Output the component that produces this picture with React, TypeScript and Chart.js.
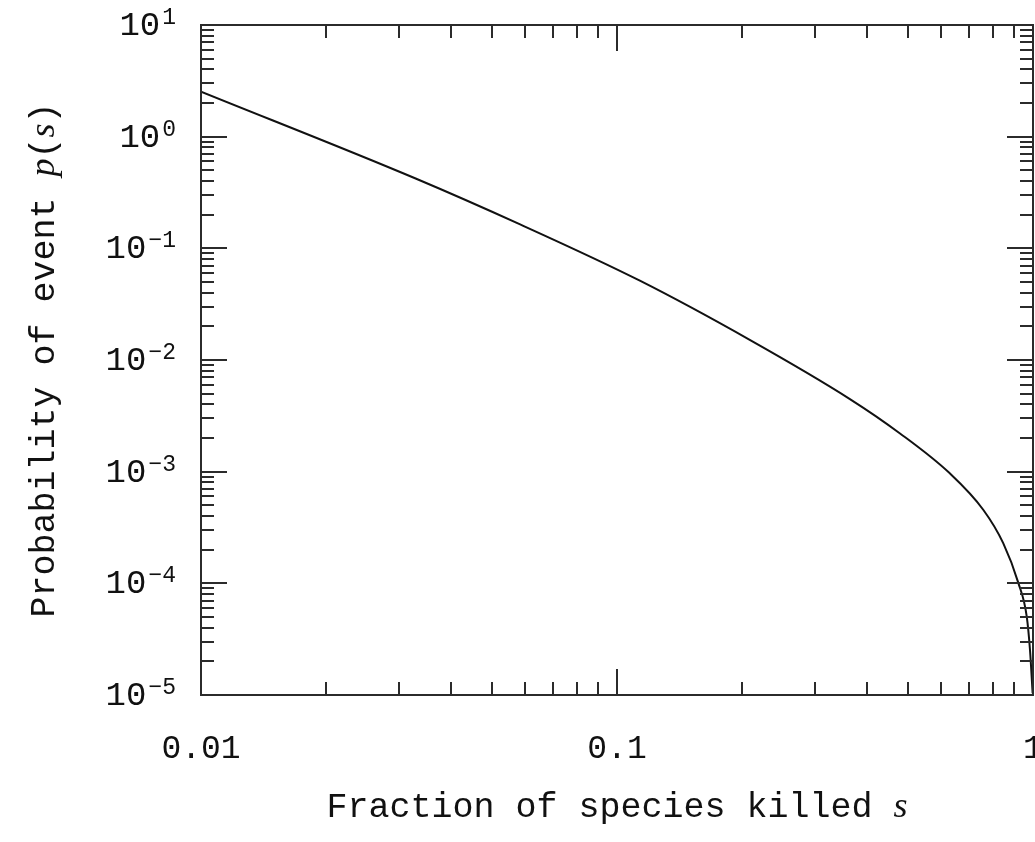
import React, { useEffect, useRef } from "react";
import { Chart, registerables } from "chart.js";

Chart.register(...registerables);

// Fraction of species killed s
const S_VALUES = [0.01, 0.0327, 0.0585, 0.1135, 0.209, 0.363, 0.479, 0.631, 0.76, 0.848, 0.922, 0.966, 0.9835, 0.998];
// Probability of event p(s)
const P_VALUES = [2.53, 0.424, 0.1637, 0.0513, 0.01507, 0.00447, 0.0022, 0.000966, 0.000454, 0.000229, 0.000101, 5.04e-5, 2.53e-5, 1.04e-5];

const X_TICK_VALUES = [0.01, 0.1, 1];
const X_TICK_LABELS = ["0.01", "0.1", "1"];
const Y_TICK_EXPONENTS = [-5, -4, -3, -2, -1, 0, 1];

const X_TITLE = "Fraction of species killed ";
const X_TITLE_VAR = "s";
const Y_TITLE = "Probability of event ";

const W = 1035;
const H = 842;
const MONO = "'Liberation Mono', 'DejaVu Sans Mono', monospace";
const ITAL = "italic 36px 'Liberation Serif', 'DejaVu Serif', serif";
const AXIS_COLOR = "#2b2b2b";

function fmtExp(e: number): string {
  return e < 0 ? "\u2212" + String(-e) : String(e);
}

const framePlugin = {
  id: "framePlugin",
  afterDraw(chart: any) {
    const ctx: CanvasRenderingContext2D = chart.ctx;
    const { left, right, top, bottom } = chart.chartArea;
    const xs = chart.scales.x;
    const ys = chart.scales.y;
    ctx.save();
    ctx.strokeStyle = AXIS_COLOR;
    ctx.lineWidth = 2;
    ctx.strokeRect(left, top, right - left, bottom - top);

    const MAJ = 26;
    const MIN = 13;
    ctx.beginPath();
    for (let d = 0; d < X_TICK_VALUES.length; d++) {
      const base = X_TICK_VALUES[d];
      for (let k = 1; k <= 9; k++) {
        const v = base * k;
        if (v > xs.max * 1.0001) break;
        const px = Math.round(xs.getPixelForValue(v));
        const len = k === 1 ? MAJ : MIN;
        ctx.moveTo(px, bottom);
        ctx.lineTo(px, bottom - len);
        ctx.moveTo(px, top);
        ctx.lineTo(px, top + len);
      }
    }
    for (const e of Y_TICK_EXPONENTS) {
      const base = Math.pow(10, e);
      for (let k = 1; k <= 9; k++) {
        const v = base * k;
        if (v > ys.max * 1.0001) break;
        const py = Math.round(ys.getPixelForValue(v));
        const len = k === 1 ? MAJ : MIN;
        ctx.moveTo(left, py);
        ctx.lineTo(left + len, py);
        ctx.moveTo(right, py);
        ctx.lineTo(right - len, py);
      }
    }
    ctx.stroke();

    ctx.fillStyle = "#111";
    ctx.font = `33px ${MONO}`;
    ctx.textAlign = "center";
    ctx.textBaseline = "middle";
    X_TICK_VALUES.forEach((v, i) => {
      ctx.fillText(X_TICK_LABELS[i], xs.getPixelForValue(v), 749);
    });

    const labelRight = 176;
    for (const e of Y_TICK_EXPONENTS) {
      const py = ys.getPixelForValue(Math.pow(10, e));
      const expStr = fmtExp(e);
      ctx.font = `23px ${MONO}`;
      const ew = ctx.measureText(expStr).width;
      ctx.textAlign = "left";
      ctx.textBaseline = "alphabetic";
      ctx.fillText(expStr, labelRight - ew, py - 1);
      ctx.font = `34px ${MONO}`;
      ctx.textAlign = "right";
      ctx.textBaseline = "middle";
      ctx.fillText("10", labelRight - ew - 2, py + 1);
    }

    ctx.textBaseline = "alphabetic";
    ctx.font = `35px ${MONO}`;
    const w1 = ctx.measureText(X_TITLE).width;
    ctx.font = ITAL;
    const w2 = ctx.measureText(X_TITLE_VAR).width;
    const cx = (left + right) / 2;
    const startX = cx - (w1 + w2) / 2;
    ctx.textAlign = "left";
    ctx.font = `35px ${MONO}`;
    ctx.fillText(X_TITLE, startX, 817);
    ctx.font = ITAL;
    ctx.fillText(X_TITLE_VAR, startX + w1, 817);

    ctx.save();
    ctx.translate(54, (top + bottom) / 2);
    ctx.rotate(-Math.PI / 2);
    const parts: [string, string][] = [
      [Y_TITLE, `35px ${MONO}`],
      ["p", ITAL],
      ["(", `35px ${MONO}`],
      ["s", ITAL],
      [")", `35px ${MONO}`],
    ];
    let total = 0;
    for (const [t, f] of parts) {
      ctx.font = f;
      total += ctx.measureText(t).width;
    }
    let x0 = -total / 2;
    for (const [t, f] of parts) {
      ctx.font = f;
      ctx.fillText(t, x0, 0);
      x0 += ctx.measureText(t).width;
    }
    ctx.restore();
    ctx.restore();
  },
};

export default function App() {
  const ref = useRef<HTMLCanvasElement | null>(null);
  useEffect(() => {
    if (!ref.current) return;
    const chart = new Chart(ref.current, {
      type: "line",
      data: {
        datasets: [
          {
            data: S_VALUES.map((s, i) => ({ x: s, y: P_VALUES[i] })),
            borderColor: "#111",
            borderWidth: 2,
            pointRadius: 0,
            fill: false,
            cubicInterpolationMode: "monotone",
          },
        ],
      },
      options: {
        animation: false,
        responsive: false,
        devicePixelRatio: 1,
        layout: { padding: { left: 201, right: 2, top: 25, bottom: 147 } },
        scales: {
          x: { type: "logarithmic", min: 0.01, max: 1, display: false },
          y: { type: "logarithmic", min: 1e-5, max: 10, display: false },
        },
        plugins: { legend: { display: false }, tooltip: { enabled: false } },
      },
      plugins: [framePlugin],
    } as any);
    return () => chart.destroy();
  }, []);
  return (
    <div style={{ position: "absolute", left: 0, top: 0, width: W, height: H, background: "#fff" }}>
      <canvas ref={ref} width={W} height={H} style={{ display: "block", width: W, height: H }} />
    </div>
  );
}
